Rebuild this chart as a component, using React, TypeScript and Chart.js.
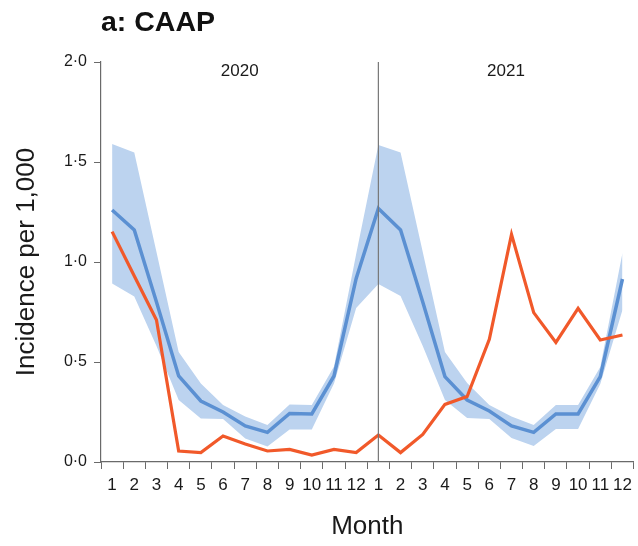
import React, { useEffect, useRef } from "react";
import { Chart, registerables } from "chart.js";

Chart.register(...registerables);

const FONT = "'Liberation Sans', Arial, Helvetica, sans-serif";

const chartTitle = "a: CAAP";
const yAxisTitle = "Incidence per 1,000";
const xAxisTitle = "Month";
const years = ["2020", "2021"];
const monthLabels = ["1", "2", "3", "4", "5", "6", "7", "8", "9", "10", "11", "12"];
const categories = [...monthLabels, ...monthLabels];

const expected = [
  1.26, 1.16, 0.8, 0.43, 0.305, 0.25, 0.18, 0.148, 0.243, 0.24, 0.43, 0.918,
  1.268, 1.16, 0.8, 0.427, 0.31, 0.255, 0.18, 0.148, 0.24, 0.24, 0.427, 0.915,
];
const upperCI = [
  1.59, 1.547, 1.05, 0.55, 0.393, 0.285, 0.227, 0.185, 0.288, 0.285, 0.477, 1.04,
  1.585, 1.547, 1.05, 0.55, 0.395, 0.285, 0.227, 0.185, 0.285, 0.285, 0.475, 1.045,
];
const lowerCI = [
  0.893, 0.827, 0.58, 0.31, 0.218, 0.215, 0.118, 0.077, 0.163, 0.163, 0.393, 0.77,
  0.89, 0.83, 0.58, 0.31, 0.22, 0.215, 0.12, 0.08, 0.165, 0.165, 0.39, 0.76,
];
const observed = [
  1.152, 0.93, 0.71, 0.055, 0.047, 0.13, 0.09, 0.055, 0.063, 0.035, 0.063, 0.047,
  0.135, 0.047, 0.138, 0.288, 0.327, 0.613, 1.138, 0.747, 0.598, 0.768, 0.61, 0.635,
];

const BLUE = "#5b90d2";
const BAND = "#bcd3ef";
const ORANGE = "#f1592a";
const AXIS = "#6a6a6a";
const TEXT = "#1a1a1a";

const annotPlugin = {
  id: "annot",
  afterDatasetsDraw(chart: any) {
    const { ctx, chartArea, scales } = chart;
    const x = scales.x.getPixelForValue(12);
    ctx.save();
    ctx.strokeStyle = "#777777";
    ctx.lineWidth = 1.2;
    ctx.beginPath();
    ctx.moveTo(x, chartArea.top);
    ctx.lineTo(x, chartArea.bottom);
    ctx.stroke();
    ctx.restore();
  },
  afterDraw(chart: any) {
    const { ctx, chartArea, scales } = chart;
    const xSplit = scales.x.getPixelForValue(12);
    ctx.save();
    ctx.fillStyle = TEXT;
    ctx.textBaseline = "alphabetic";
    ctx.textAlign = "center";
    ctx.font = `17px ${FONT}`;
    ctx.fillText(years[0], (chartArea.left + xSplit) / 2, 76);
    ctx.fillText(years[1], (xSplit + chartArea.right) / 2, 76);
    ctx.textAlign = "left";
    ctx.fillStyle = "#111111";
    ctx.font = `bold 28.5px ${FONT}`;
    ctx.fillText(chartTitle, chartArea.left, 31);
    ctx.restore();
  },
};

export default function App() {
  const ref = useRef<HTMLCanvasElement | null>(null);

  useEffect(() => {
    if (!ref.current) return;
    const chart = new Chart(ref.current, {
      type: "line",
      data: {
        labels: categories,
        datasets: [
          {
            label: "Observed",
            data: observed,
            borderColor: ORANGE,
            borderWidth: 3.2,
            pointRadius: 0,
            tension: 0,
            fill: false,
            order: 0,
          },
          {
            label: "Expected",
            data: expected,
            borderColor: BLUE,
            borderWidth: 3.5,
            pointRadius: 0,
            tension: 0,
            fill: false,
            order: 1,
          },
          {
            label: "Upper",
            data: upperCI,
            borderWidth: 0,
            borderColor: "rgba(0,0,0,0)",
            backgroundColor: BAND,
            pointRadius: 0,
            tension: 0,
            fill: "+1",
            order: 2,
          },
          {
            label: "Lower",
            data: lowerCI,
            borderWidth: 0,
            borderColor: "rgba(0,0,0,0)",
            pointRadius: 0,
            tension: 0,
            fill: false,
            order: 3,
          },
        ],
      },
      options: {
        animation: false,
        responsive: false,
        layout: { padding: { top: 62, right: 4, bottom: 0, left: 1 } },
        plugins: {
          legend: { display: false },
          tooltip: { enabled: false },
          title: { display: false },
        },
        scales: {
          x: {
            type: "category",
            offset: true,
            grid: {
              offset: true,
              drawOnChartArea: false,
              drawTicks: true,
              tickLength: 7,
              color: AXIS,
              lineWidth: 1,
            },
            border: { display: true, color: AXIS, width: 1.2 },
            ticks: {
              autoSkip: false,
              maxRotation: 0,
              minRotation: 0,
              padding: 6,
              color: TEXT,
              font: { family: FONT, size: 17 },
            },
            title: {
              display: true,
              text: xAxisTitle,
              color: TEXT,
              font: { family: FONT, size: 26 },
              padding: { top: 0, bottom: 4 },
            },
            afterFit(scale: any) {
              scale.height = 84;
            },
          },
          y: {
            min: 0,
            max: 2,
            grid: {
              drawOnChartArea: false,
              drawTicks: true,
              tickLength: 7,
              color: AXIS,
              lineWidth: 1,
            },
            border: { display: true, color: AXIS, width: 1.2 },
            ticks: {
              stepSize: 0.5,
              padding: 7,
              color: TEXT,
              font: { family: FONT, size: 16 },
              callback: (v: any) => Number(v).toFixed(1).replace(".", "\u00B7"),
            },
            title: {
              display: true,
              text: yAxisTitle,
              color: TEXT,
              font: { family: FONT, size: 26 },
              padding: { top: 10, bottom: 0 },
            },
            afterFit(scale: any) {
              scale.width = 100;
            },
          },
        },
      },
      plugins: [annotPlugin],
    });
    return () => chart.destroy();
  }, []);

  return (
    <div style={{ position: "fixed", left: 0, top: 0, width: 638, height: 546, background: "#ffffff" }}>
      <canvas ref={ref} width={638} height={546} style={{ display: "block" }} />
    </div>
  );
}
